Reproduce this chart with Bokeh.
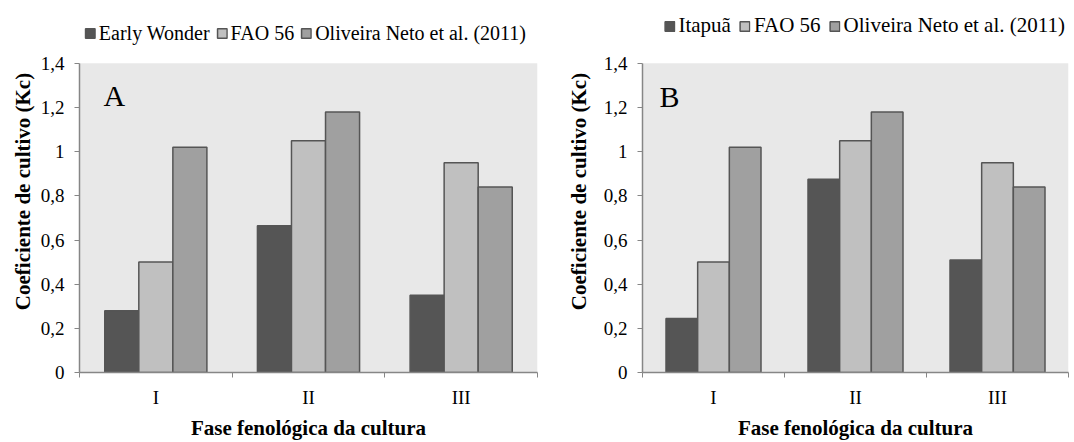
from bokeh.plotting import figure
from bokeh.models import (ColumnDataSource, FixedTicker, Legend, LegendItem, Label,
                          Range1d, BoxAnnotation)
from bokeh.layouts import row
from bokeh.transform import dodge
from bokeh.embed import file_html
from bokeh.resources import INLINE

# ---------------- data ----------------
phases = ["I", "II", "III"]
early_wonder = [0.28, 0.665, 0.35]
itapua = [0.245, 0.875, 0.51]
fao56 = [0.50, 1.05, 0.95]
oliveira = [1.02, 1.18, 0.84]
y_ticks = [0, 0.2, 0.4, 0.6, 0.8, 1.0, 1.2, 1.4]
y_tick_labels = ["0", "0,2", "0,4", "0,6", "0,8", "1", "1,2", "1,4"]
series_names_a = ["Early Wonder", "FAO 56", "Oliveira Neto et al. (2011)"]
series_names_b = ["Itapuã", "FAO 56", "Oliveira Neto et al. (2011)"]
panel_letters = ["A", "B"]

FONT = "Liberation Serif"
COLORS = ["#555555", "#c0c0c0", "#a0a0a0"]
EDGE = "#555555"
AXIS = "#868686"
PLOT_BG = "#e8e8e8"
BW = 0.223
Y_MAX = 1.4
TOP_PAD, FRAME_TOP, FRAME_BOTTOM = 10, 63, 373
# frame extends above the plotted area to hold the legend
Y_END = Y_MAX * (FRAME_BOTTOM - TOP_PAD) / (FRAME_BOTTOM - FRAME_TOP)


def make_panel(cultivar, names, letter, width, left, right, ylab_standoff,
               leg_font, leg_spacing, leg_margin, letter_x, letter_y):
    centers = [i + 0.5 for i in range(len(phases))]
    src = ColumnDataSource(dict(x=centers, cult=cultivar, fao=fao56, oli=oliveira))
    p = figure(width=width, height=442, output_backend="svg", toolbar_location=None,
               x_range=Range1d(0, len(phases)), y_range=Range1d(0, Y_END),
               min_border_left=left, min_border_right=right,
               min_border_top=TOP_PAD, min_border_bottom=69)
    p.background_fill_color = "white"
    p.border_fill_color = "white"
    p.outline_line_color = None
    p.grid.visible = False

    p.add_layout(BoxAnnotation(bottom=0, top=Y_MAX, fill_color=PLOT_BG, fill_alpha=1,
                               line_color=None, level="underlay"))

    ya = p.yaxis[0]
    xa = p.xaxis[0]

    rends = []
    for off, col, color in zip([-BW, 0, BW], ["cult", "fao", "oli"], COLORS):
        r = p.vbar(x=dodge("x", off), top=col, width=BW, source=src,
                   fill_color=color, line_color=EDGE, line_width=1.5)
        rends.append(r)

    legend = Legend(items=[LegendItem(label=n, renderers=[r]) for n, r in zip(names, rends)],
                    location="top_right", orientation="horizontal",
                    label_text_font=FONT, label_text_font_size=leg_font,
                    label_text_color="black", glyph_width=12, glyph_height=12,
                    label_height=24, label_standoff=3, spacing=leg_spacing,
                    padding=0, margin=leg_margin,
                    border_line_color=None, background_fill_alpha=0)
    p.add_layout(legend, "center")

    p.add_layout(Label(x=letter_x, y=letter_y, text=letter, text_font=FONT,
                       text_font_size="30px", text_color="black",
                       text_baseline="alphabetic"))

    # y axis
    ya.ticker = FixedTicker(ticks=y_ticks)
    ya.bounds = (0, Y_MAX)
    ya.major_label_overrides = dict(zip(y_ticks, y_tick_labels))
    ya.axis_label = "Coeficiente de cultivo (Kc)"
    ya.axis_label_text_font = FONT
    ya.axis_label_text_font_style = "bold"
    ya.axis_label_text_font_size = "21px"
    ya.axis_label_text_color = "black"
    ya.axis_label_standoff = ylab_standoff
    ya.major_label_text_font = FONT
    ya.major_label_text_font_size = "19px"
    ya.major_label_text_color = "black"
    ya.major_label_standoff = 10
    ya.minor_tick_line_color = None
    ya.major_tick_out = 5
    ya.major_tick_in = 0
    ya.axis_line_color = AXIS
    ya.major_tick_line_color = AXIS
    ya.axis_line_width = 1.5

    # x axis
    xa.ticker = FixedTicker(ticks=centers, minor_ticks=list(range(len(phases) + 1)))
    xa.major_label_overrides = dict(zip(centers, phases))
    xa.axis_label = "Fase fenológica da cultura"
    xa.axis_label_text_font = FONT
    xa.axis_label_text_font_style = "bold"
    xa.axis_label_text_font_size = "21px"
    xa.axis_label_text_color = "black"
    xa.axis_label_standoff = 5
    xa.major_label_text_font = FONT
    xa.major_label_text_font_size = "19px"
    xa.major_label_text_color = "black"
    xa.major_label_standoff = 8
    xa.major_tick_line_color = None
    xa.minor_tick_line_color = AXIS
    xa.minor_tick_out = 5
    xa.minor_tick_in = 0
    xa.axis_line_color = AXIS
    xa.axis_line_width = 1.5
    return p


pa = make_panel(early_wonder, series_names_a, panel_letters[0], 540, 79, 3, 3,
                "20px", 6, 11, 0.157, 1.255)
pb = make_panel(itapua, series_names_b, panel_letters[1], 534, 102, 6, 10,
                "21px", 8, 3, 0.12, 1.25)

layout = row(pa, pb)
open("out.html", "w").write(file_html(layout, INLINE))
